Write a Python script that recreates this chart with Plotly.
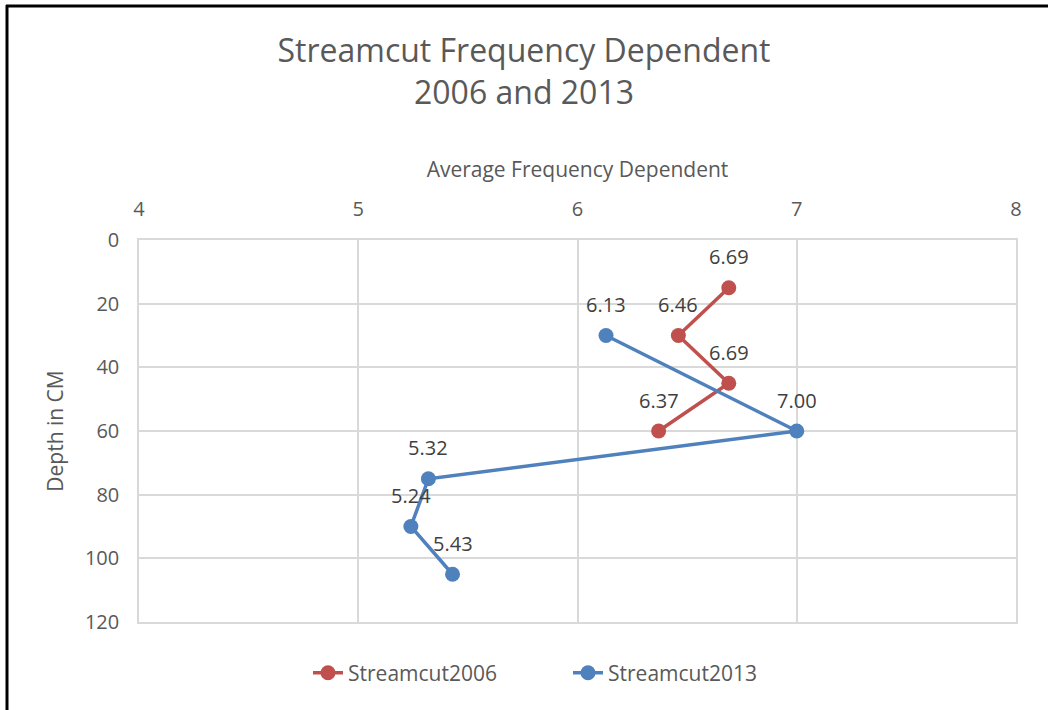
import plotly.graph_objects as go

depth_2006 = [15, 30, 45, 60]
freq_2006 = [6.69, 6.46, 6.69, 6.37]
depth_2013 = [30, 60, 75, 90, 105]
freq_2013 = [6.13, 7.00, 5.32, 5.24, 5.43]

x_ticks = [4, 5, 6, 7, 8]
y_ticks = [0, 20, 40, 60, 80, 100, 120]

FONT = "Open Sans"
GREY = "#595959"
RED = "#C0504D"
BLUE = "#4F81BD"

fig = go.Figure()
fig.add_trace(go.Scatter(
    x=freq_2006, y=depth_2006, name="Streamcut2006",
    mode="lines+markers",
    line=dict(color=RED, width=3.5),
    marker=dict(size=15, color=RED),
))
fig.add_trace(go.Scatter(
    x=freq_2013, y=depth_2013, name="Streamcut2013",
    mode="lines+markers",
    line=dict(color=BLUE, width=3.5),
    marker=dict(size=15, color=BLUE),
))

annotations = []
for xs, ys in ((freq_2006, depth_2006), (freq_2013, depth_2013)):
    for xv, yv in zip(xs, ys):
        annotations.append(dict(
            x=xv, y=yv, xref="x", yref="y", text=f"{xv:.2f}",
            showarrow=False, yshift=31,
            font=dict(size=20, color="#404040", family=FONT)))

fig.update_layout(
    width=1048, height=710,
    margin=dict(l=139, r=32, t=240, b=88),
    paper_bgcolor="white", plot_bgcolor="white",
    font=dict(family=FONT, color=GREY),
    title=dict(text="Streamcut Frequency Dependent<br>2006 and 2013",
               x=0.5, xref="container", xanchor="center", y=0.912, yanchor="top",
               font=dict(size=32, color=GREY, family=FONT)),
    showlegend=True,
    legend=dict(orientation="h", x=(568 - 139) / 877, xanchor="center",
                y=-0.08, yanchor="top", entrywidth=215, entrywidthmode="pixels",
                font=dict(size=21, color=GREY, family=FONT)),
    annotations=annotations,
    xaxis=dict(side="top", range=[4, 8], tickvals=x_ticks,
               showgrid=True, gridcolor="#D9D9D9", gridwidth=1.5,
               showline=True, linecolor="#D9D9D9", linewidth=1.5, mirror=True,
               zeroline=False, ticks="", ticklabelstandoff=14,
               tickfont=dict(size=20, color=GREY),
               title=dict(text="Average Frequency Dependent", standoff=12,
                          font=dict(size=21, color=GREY))),
    yaxis=dict(range=[120, 0], tickvals=y_ticks,
               showgrid=True, gridcolor="#D9D9D9", gridwidth=1.5,
               showline=True, linecolor="#D9D9D9", linewidth=1.5, mirror=True,
               zeroline=False, ticks="", ticklabelstandoff=14,
               tickfont=dict(size=20, color=GREY),
               title=dict(text="Depth in CM", standoff=16,
                          font=dict(size=21, color=GREY))),
)

# chart outer border (left and top visible in reference)
fig.add_shape(type="line", xref="paper", yref="paper",
              x0=(7 - 139) / 877, x1=(7 - 139) / 877,
              y0=1 + (240 - 5) / 382, y1=-0.3,
              line=dict(color="black", width=3))
fig.add_shape(type="line", xref="paper", yref="paper",
              x0=(6 - 139) / 877, x1=1.1,
              y0=1 + (240 - 6) / 382, y1=1 + (240 - 6) / 382,
              line=dict(color="black", width=3))

fig.write_html("out.html", config={"displayModeBar": False},
               post_script="document.body.style.margin='0';document.body.style.overflow='hidden';")
